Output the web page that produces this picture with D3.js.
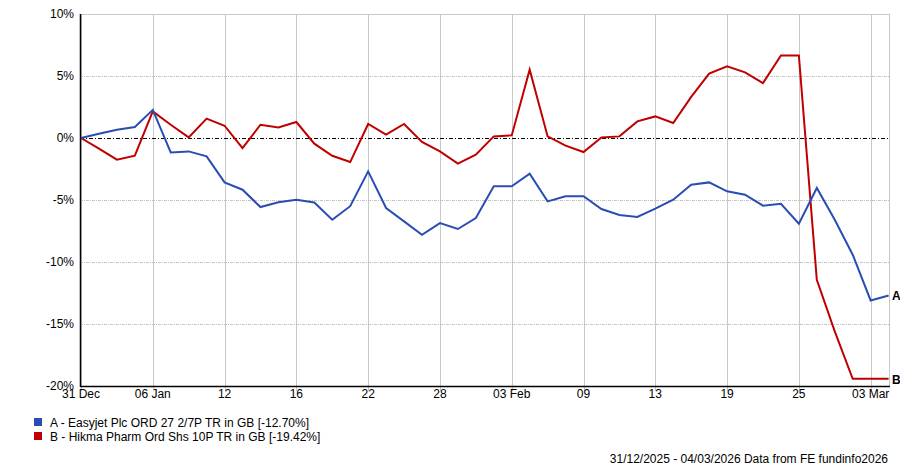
<!DOCTYPE html>
<html>
<head>
<meta charset="utf-8">
<script src="https://cdn.jsdelivr.net/npm/d3@7"></script>
<style>
  html, body { margin: 0; padding: 0; background: #fff; }
  svg { display: block; }
  text { font-family: "Liberation Sans", Arial, sans-serif; font-size: 12px; fill: #000; }
</style>
</head>
<body>
<svg id="chart" width="900" height="467"></svg>
<script>
// Trading-day index 0..45 (31 Dec 2025 .. 04 Mar 2026)
const dates = ["31 Dec","01 Jan","02 Jan","05 Jan","06 Jan","07 Jan","08 Jan","09 Jan","12 Jan","13 Jan",
  "14 Jan","15 Jan","16 Jan","19 Jan","20 Jan","21 Jan","22 Jan","23 Jan","26 Jan","27 Jan",
  "28 Jan","29 Jan","30 Jan","02 Feb","03 Feb","04 Feb","05 Feb","06 Feb","09 Feb","10 Feb",
  "11 Feb","12 Feb","13 Feb","16 Feb","17 Feb","18 Feb","19 Feb","20 Feb","23 Feb","24 Feb",
  "25 Feb","26 Feb","27 Feb","02 Mar","03 Mar","04 Mar"];

const seriesA = [0, 0.35, 0.66, 0.89, 2.27, -1.16, -1.08, -1.48, -3.58, -4.17,
  -5.57, -5.19, -4.98, -5.20, -6.59, -5.50, -2.69, -5.65, -6.72, -7.80,
  -6.86, -7.34, -6.45, -3.90, -3.90, -2.88, -5.11, -4.70, -4.70, -5.73,
  -6.21, -6.37, -5.70, -4.98, -3.77, -3.58, -4.30, -4.57, -5.46, -5.30,
  -6.91, -4.03, -6.60, -9.41, -13.10, -12.70];

const seriesB = [0, -0.85, -1.75, -1.43, 2.15, 1.07, 0.05, 1.56, 0.99, -0.81,
  1.07, 0.85, 1.29, -0.46, -1.43, -1.94, 1.13, 0.27, 1.13, -0.32,
  -1.08, -2.07, -1.35, 0.13, 0.21, 5.51, 0.13, -0.62, -1.13, 0.05,
  0.13, 1.34, 1.74, 1.21, 3.31, 5.19, 5.78, 5.29, 4.43, 6.66,
  6.66, -11.43, -15.60, -19.42, -19.42, -19.42];

const xTickIdx = [0, 4, 8, 12, 16, 20, 24, 28, 32, 36, 40, 44];
const xTickLabels = ["31 Dec","06 Jan","12","16","22","28","03 Feb","09","13","19","25","03 Mar"];
const yTicks = [10, 5, 0, -5, -10, -15, -20];

const legendLabels = ["A - Easyjet Plc ORD 27 2/7P TR in GB [-12.70%]", "B - Hikma Pharm Ord Shs 10P TR in GB [-19.42%]"];
const seriesKeys = ["A", "B"];
const colors = ["#2a4db3", "#c00000"];
const footer = "31/12/2025 - 04/03/2026 Data from FE fundinfo2026";

const svg = d3.select("#chart");
const pLeft = 80, pRight = 889, pTop = 14, pBottom = 386;

const x = d3.scaleLinear().domain([0, 45]).range([81, 888.6]);
const y = d3.scaleLinear().domain([-20, 10]).range([pBottom, pTop]);

// vertical gridlines
const g = svg.append("g");
g.selectAll("line.vg").data(xTickIdx).enter().append("line")
  .attr("x1", d => Math.round(x(d)) + 0.5).attr("x2", d => Math.round(x(d)) + 0.5)
  .attr("y1", pTop).attr("y2", pBottom + 5)
  .attr("stroke", "#c8c8c8").attr("stroke-width", 1);

// horizontal gridlines
g.selectAll("line.hg").data(yTicks.filter(d => d !== 0 && d !== -20 && d !== 10)).enter().append("line")
  .attr("x1", pLeft).attr("x2", pRight)
  .attr("y1", d => Math.round(y(d)) + 0.5).attr("y2", d => Math.round(y(d)) + 0.5)
  .attr("stroke", "#c4c4c4").attr("stroke-width", 1).attr("stroke-dasharray", "3,1,1,1");

// top & right frame
svg.append("line").attr("x1", pLeft).attr("x2", pRight + 0.5).attr("y1", pTop + 0.5).attr("y2", pTop + 0.5)
  .attr("stroke", "#c8c8c8");
svg.append("line").attr("x1", pRight + 0.5).attr("x2", pRight + 0.5).attr("y1", pTop).attr("y2", pBottom)
  .attr("stroke", "#c8c8c8");

// zero line
svg.append("line").attr("x1", pLeft).attr("x2", pRight)
  .attr("y1", Math.round(y(0)) + 0.5).attr("y2", Math.round(y(0)) + 0.5)
  .attr("stroke", "#000").attr("stroke-dasharray", "4,2,1,2");

// axes lines
svg.append("line").attr("x1", pLeft + 0.5).attr("x2", pLeft + 0.5).attr("y1", pTop).attr("y2", pBottom + 1)
  .attr("stroke", "#000").attr("stroke-width", 1.5);
svg.append("line").attr("x1", pLeft).attr("x2", pRight + 1).attr("y1", pBottom + 0.5).attr("y2", pBottom + 0.5)
  .attr("stroke", "#000").attr("stroke-width", 1.5);

// y labels
svg.selectAll("text.yl").data(yTicks).enter().append("text")
  .attr("x", 74).attr("y", d => y(d)).attr("dy", "0.35em")
  .attr("text-anchor", "end").text(d => d + "%");

// x labels
svg.selectAll("text.xl").data(xTickIdx).enter().append("text")
  .attr("x", (d) => x(d)).attr("y", 398)
  .attr("text-anchor", "middle").text((d, i) => xTickLabels[i]);

// lines
const line = d3.line().x((d, i) => x(i)).y(d => y(d));
const allSeries = [seriesA, seriesB];
[1, 0].forEach(k => {
  svg.append("path").datum(allSeries[k]).attr("d", line)
    .attr("fill", "none").attr("stroke", colors[k]).attr("stroke-width", 2)
    .attr("stroke-linejoin", "miter");
});

// end labels
allSeries.forEach((s, k) => {
  svg.append("text").attr("x", 892).attr("y", y(s[s.length - 1])).attr("dy", "0.4em")
    .attr("font-weight", "bold").text(seriesKeys[k]);
});

// legend
legendLabels.forEach((t, k) => {
  svg.append("rect").attr("x", 34).attr("y", 418 + k * 14).attr("width", 8).attr("height", 8)
    .attr("fill", colors[k]);
  svg.append("text").attr("x", 50).attr("y", 427 + k * 14).text(t);
});

// footer
svg.append("text").attr("x", 888).attr("y", 463).attr("text-anchor", "end").text(footer);
</script>
</body>
</html>
